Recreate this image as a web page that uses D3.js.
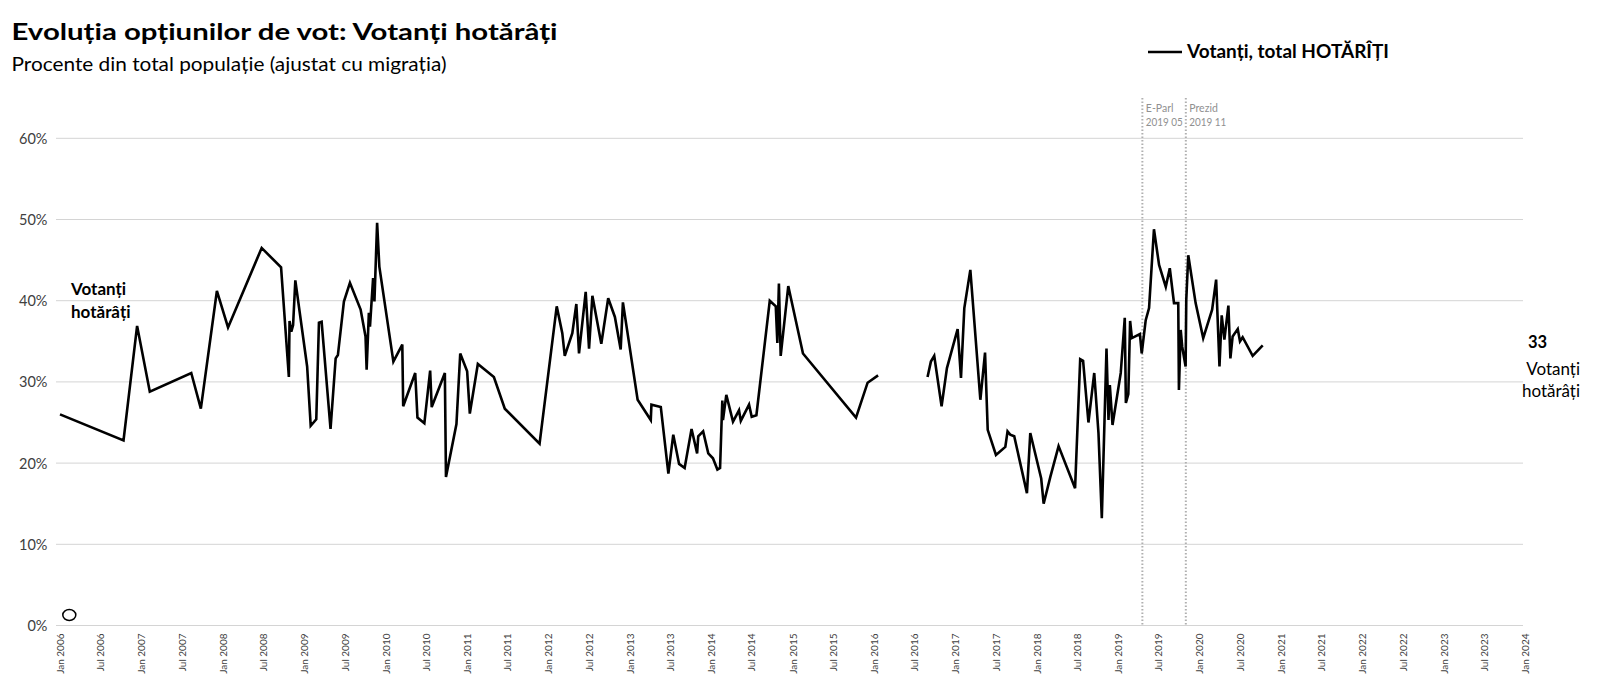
<!DOCTYPE html>
<html>
<head>
<meta charset="utf-8">
<script src="https://cdn.jsdelivr.net/npm/d3@7"></script>
<style>
  html, body { margin: 0; padding: 0; background: #fff; }
  svg { display: block; font-family: Lato, "Open Sans", sans-serif; }
</style>
</head>
<body>
<svg id="chart" width="1600" height="698"></svg>
<script>
// ---------------- DATA ----------------
const title = "Evoluția opțiunilor de vot: Votanți hotărâți";
const subtitle = "Procente din total populație (ajustat cu migrația)";
const seriesName = "Votanți, total HOTĂRÎȚI";
const yTicks = [0, 10, 20, 30, 40, 50, 60];
const xDomain = ["2006-01-01", "2024-01-01"];

// survey dates and values (% of population); null = gap in series
const dates = [
  "2006-01-01","2006-10-13","2006-12-13","2007-02-08","2007-08-13","2007-09-25","2007-12-06","2008-01-25",
  "2008-06-24","2008-09-19","2008-10-24","2008-10-27","2008-11-04","2008-11-12","2008-11-22","2009-01-14",
  "2009-01-30","2009-02-24","2009-03-08","2009-03-20","2009-04-29","2009-05-22","2009-06-01","2009-06-28",
  "2009-07-25","2009-09-11","2009-10-03","2009-10-08","2009-10-18","2009-10-23","2009-11-06","2009-11-12",
  "2009-11-24","2009-12-04","2010-02-05","2010-03-17","2010-03-21","2010-05-14","2010-05-24","2010-06-24",
  "2010-07-20","2010-07-27","2010-09-24","2010-09-29","2010-11-15","2010-12-02","2011-01-02","2011-01-14",
  "2011-02-19","2011-05-02","2011-06-20","2011-11-23","2012-02-08","2012-03-04","2012-03-15","2012-04-18",
  "2012-05-06","2012-05-18","2012-06-17","2012-07-02","2012-07-17","2012-08-26","2012-09-26","2012-10-26",
  "2012-11-21","2012-12-01","2013-02-05","2013-04-05","2013-04-08","2013-05-20","2013-06-23","2013-07-15",
  "2013-08-10","2013-09-04","2013-10-05","2013-10-30","2013-11-04","2013-11-26","2013-12-19","2014-01-09",
  "2014-01-29","2014-02-10","2014-02-20","2014-02-23","2014-03-10","2014-04-09","2014-05-06","2014-05-14",
  "2014-06-20","2014-07-02","2014-07-23","2014-09-21","2014-10-18","2014-10-25","2014-11-01","2014-11-09",
  "2014-12-13","2015-02-17","2015-10-13","2015-12-04","2016-01-20",
  "2016-05-01",
  "2016-08-29","2016-09-13","2016-09-28","2016-10-31","2016-11-24","2017-01-11","2017-01-26","2017-02-10",
  "2017-03-09","2017-04-23","2017-05-14","2017-05-26","2017-07-02","2017-08-13","2017-08-23","2017-09-04",
  "2017-09-22","2017-11-18","2017-12-03","2018-01-21","2018-02-01","2018-03-03","2018-04-09","2018-06-22",
  "2018-07-15","2018-07-28","2018-08-21","2018-09-16","2018-10-05","2018-10-20","2018-11-10","2018-11-19",
  "2018-11-25","2018-12-07","2019-01-13","2019-01-31","2019-02-05","2019-02-16","2019-02-24","2019-03-04",
  "2019-04-09","2019-04-17","2019-05-05","2019-05-20","2019-06-11","2019-07-04","2019-08-03","2019-08-21",
  "2019-09-09","2019-09-28","2019-10-01","2019-10-09","2019-10-16","2019-10-31","2019-11-03","2019-11-12",
  "2019-12-15","2020-01-18","2020-02-27","2020-03-16","2020-03-31","2020-04-10","2020-04-22","2020-05-10",
  "2020-05-19","2020-05-29","2020-06-21","2020-07-01","2020-07-13","2020-08-27","2020-10-11"
];
const values = [
  26.0, 22.8, 36.9, 28.8, 31.1, 26.7, 41.2, 36.7,
  46.5, 44.1, 30.6, 37.5, 36.2, 37.0, 42.5, 31.9,
  24.6, 25.4, 37.3, 37.4, 24.2, 32.9, 33.3, 39.9,
  42.2, 38.9, 35.6, 31.5, 38.5, 36.8, 42.8, 39.9,
  49.6, 44.2, 32.5, 34.6, 27.0, 31.1, 25.6, 24.9,
  31.4, 26.9, 31.1, 18.3, 24.8, 33.5, 31.3, 26.1,
  32.2, 30.6, 26.7, 22.4, 39.3, 36.0, 33.2, 36.0,
  39.6, 33.5, 41.1, 34.1, 40.6, 34.7, 40.3, 38.0,
  34.0, 39.8, 27.8, 25.3, 27.2, 26.9, 18.7, 23.5,
  19.9, 19.4, 24.2, 21.2, 23.3, 23.9, 21.2, 20.6,
  19.2, 19.4, 27.7, 25.3, 28.4, 25.1, 26.5, 25.2,
  27.2, 25.7, 25.9, 40.0, 39.3, 34.8, 42.1, 33.2,
  41.8, 33.5, 25.6, 29.9, 30.8,
  null,
  30.6, 32.5, 33.2, 27.0, 31.7, 36.5, 30.5, 39.1,
  43.8, 27.8, 33.6, 24.1, 21.0, 22.0, 23.9, 23.5,
  23.3, 16.3, 23.7, 18.1, 15.0, 18.3, 22.1, 16.9,
  32.8, 32.6, 25.0, 31.1, 23.7, 13.2, 34.1, 25.3,
  29.6, 24.7, 31.1, 37.9, 27.4, 28.5, 37.5, 35.4,
  35.9, 33.5, 37.6, 39.1, 48.8, 44.4, 41.7, 44.0,
  39.7, 39.7, 29.0, 36.4, 34.3, 31.9, 40.1, 45.6,
  39.7, 35.4, 38.9, 42.6, 31.9, 38.2, 35.2, 39.4,
  32.9, 35.6, 36.5, 35.0, 35.5, 33.2, 34.5
];

// election markers
const eventDates = ["2019-04-20", "2019-11-01"];
const eventNames = ["E-Parl", "Prezid"];
const eventLabels = ["2019 05", "2019 11"];

// start / end labels
const leftLabel = ["Votanți", "hotărâți"];
const lastLabelValue = "33";
const rightLabel = ["Votanți", "hotărâți"];

// ---------------- CHART ----------------
const svg = d3.select("#chart");
const parse = d3.timeParse("%Y-%m-%d");

const x = d3.scaleTime().domain(xDomain.map(parse)).range([60, 1525]);
const y = d3.scaleLinear().domain([0, 60]).range([625.5, 138.3]);

// gridlines
svg.append("g").selectAll("line").data(yTicks).join("line")
  .attr("x1", 56).attr("x2", 1523)
  .attr("y1", d => y(d)).attr("y2", d => y(d))
  .attr("stroke", "#d4d4d4").attr("stroke-width", 1);

// y axis labels
const yAxis = d3.axisLeft(y).tickValues(yTicks).tickFormat(d => d + "%").tickSize(0).tickPadding(0);
const gy = svg.append("g").attr("transform", "translate(47.5,0)").call(yAxis);
gy.select(".domain").remove();
gy.selectAll("text").attr("font-family", "Lato, sans-serif").attr("font-size", 14.5).attr("fill", "#404040").attr("dy", "0.35em");

// x axis labels
const xTicks = d3.timeMonth.every(6).range(parse(xDomain[0]), d3.timeDay.offset(parse(xDomain[1]), 1));
const xAxis = d3.axisBottom(x).tickValues(xTicks).tickFormat(d3.timeFormat("%b %Y")).tickSize(0).tickPadding(0);
const gx = svg.append("g").attr("transform", "translate(0,633.5)").call(xAxis);
gx.select(".domain").remove();
gx.selectAll("text")
  .attr("font-family", "Lato, sans-serif").attr("font-size", 10).attr("fill", "#404040")
  .attr("transform", "rotate(-90)")
  .attr("text-anchor", "end")
  .attr("x", 0).attr("y", 0).attr("dy", "0.35em");

// election dotted lines
const ev = svg.append("g");
eventDates.forEach((d, i) => {
  const xx = x(parse(d));
  ev.append("line").attr("x1", xx).attr("x2", xx).attr("y1", 98).attr("y2", 625)
    .attr("stroke", "#b0b0b0").attr("stroke-width", 2).attr("stroke-dasharray", "1.5,2");
  ev.append("text").attr("x", xx + 3.5).attr("y", 111.5).text(eventNames[i])
    .attr("font-size", 10.5).attr("fill", "#909090");
  ev.append("text").attr("x", xx + 3.5).attr("y", 126).text(eventLabels[i])
    .attr("font-size", 10.5).attr("fill", "#909090")
    .attr("textLength", 37).attr("lengthAdjust", "spacingAndGlyphs");
});

// series line
const pts = dates.map((d, i) => ({ date: parse(d), v: values[i] }));
const line = d3.line().defined(d => d.v !== null).x(d => x(d.date)).y(d => y(d.v));
svg.append("path").datum(pts).attr("d", line)
  .attr("fill", "none").attr("stroke", "#000").attr("stroke-width", 2.6)
  .attr("stroke-linejoin", "miter").attr("stroke-miterlimit", 4);

// small ellipse marker near origin
svg.append("ellipse").attr("cx", 69.3).attr("cy", 615).attr("rx", 6.5).attr("ry", 5.4)
  .attr("fill", "none").attr("stroke", "#000").attr("stroke-width", 1.5);

// title and subtitle
svg.append("text").attr("x", 11.5).attr("y", 40).text(title)
  .attr("font-size", 23.5).attr("font-weight", "bold").attr("fill", "#000")
  .attr("textLength", 546).attr("lengthAdjust", "spacingAndGlyphs");
svg.append("text").attr("x", 11.5).attr("y", 70.5).text(subtitle)
  .attr("font-size", 20).attr("fill", "#000")
  .attr("textLength", 435).attr("lengthAdjust", "spacingAndGlyphs");

// legend
svg.append("line").attr("x1", 1148).attr("x2", 1182).attr("y1", 52).attr("y2", 52)
  .attr("stroke", "#000").attr("stroke-width", 2.6);
svg.append("text").attr("x", 1187).attr("y", 58).text(seriesName)
  .attr("font-size", 18).attr("font-weight", "bold").attr("fill", "#000")
  .attr("textLength", 202).attr("lengthAdjust", "spacingAndGlyphs");

// left label
leftLabel.forEach((t, i) => {
  svg.append("text").attr("x", 71).attr("y", 295 + i * 23).text(t)
    .attr("font-size", 17).attr("font-weight", "bold").attr("fill", "#000");
});

// right label
svg.append("text").attr("x", 1528).attr("y", 348).text(lastLabelValue)
  .attr("font-size", 16.5).attr("font-weight", "bold").attr("fill", "#000");
rightLabel.forEach((t, i) => {
  svg.append("text").attr("x", 1580).attr("y", 375 + i * 22).text(t)
    .attr("text-anchor", "end").attr("font-size", 17).attr("fill", "#000");
});
</script>
</body>
</html>
